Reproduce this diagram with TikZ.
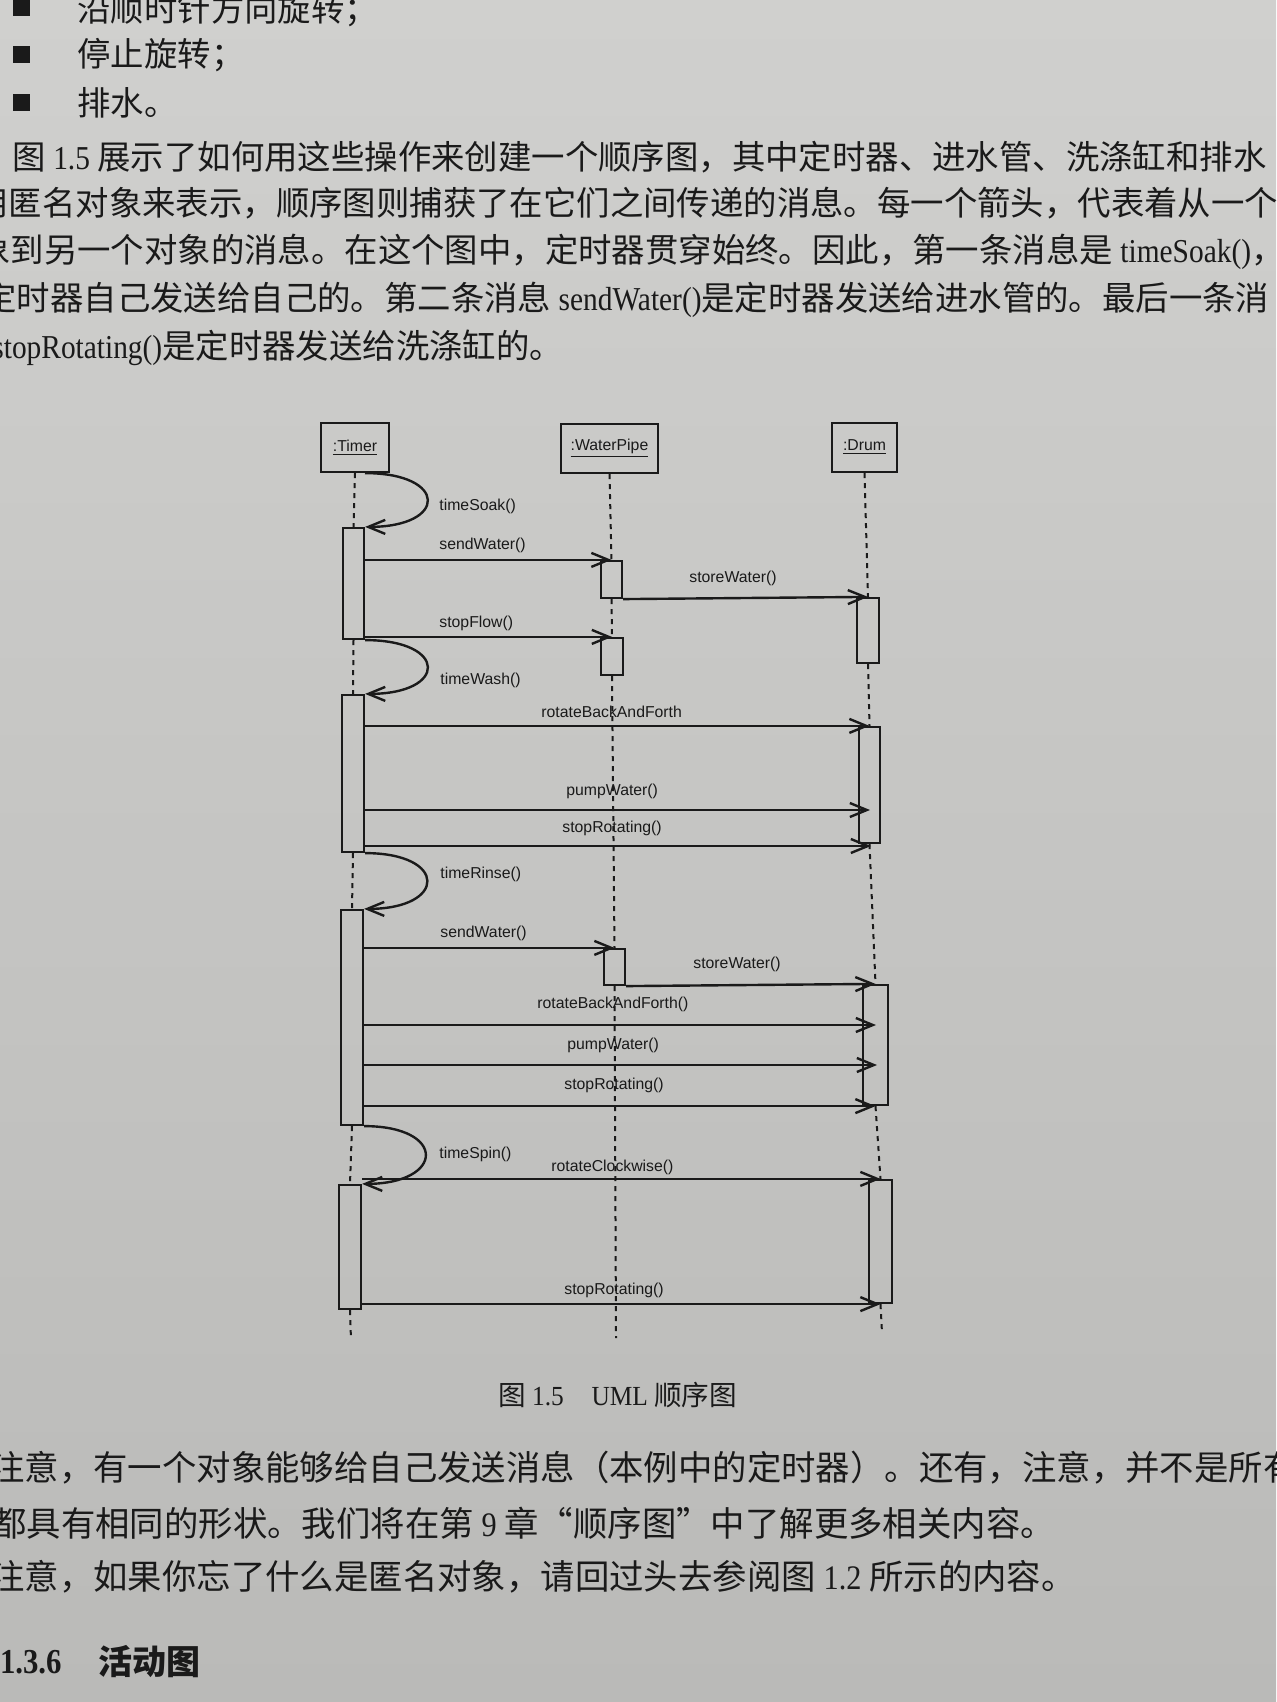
\documentclass[tikz,border=0pt]{standalone}
\usepackage{fontspec}
\setmainfont{Noto Sans CJK SC}
\newfontfamily\tms[FakeStretch=0.88]{Liberation Serif}
\newfontfamily\tmscap[FakeStretch=0.92]{Liberation Serif}
\newfontfamily\hlv{Liberation Sans}
\usetikzlibrary{arrows.meta}
\definecolor{ink}{RGB}{26,26,26}
\definecolor{paperTop}{RGB}{208,208,206}
\definecolor{paperBot}{RGB}{186,186,184}
% activation bar: name, x-left, x-right, y-top, y-bottom (pixel units)
\newcommand\actnode[5]{\node[actbox, minimum width={(#3-#2)*0.5pt}, minimum height={(#5-#4)*0.5pt}] (#1) at ({(#2+#3)/2},{(#4+#5)/2}) {};}
\tikzset{
  body/.style={anchor=west, inner sep=0pt, text=ink, font=\fontsize{16.7}{20}\selectfont},
  bodyb/.style={anchor=west, inner sep=0pt, text=ink, font=\fontsize{17.2}{20}\selectfont},
  bullet/.style={fill=ink, inner sep=0pt, minimum size=8.5pt},
  obj/.style={draw=ink, line width=1.1pt, inner sep=0pt, text=ink, font=\hlv\fontsize{7.9}{9}\selectfont},
  actbox/.style={draw=ink, line width=1.1pt, inner sep=0pt},
  life/.style={draw=ink, line width=1pt, dash pattern=on 2.5pt off 2.5pt},
  msg/.style={draw=ink, line width=1.2pt, -{Straight Barb[length=8.5pt,width=7pt]}},
  lbl/.style={anchor=west, inner sep=0pt, text=ink, font=\hlv\fontsize{7.9}{9}\selectfont},
}
\begin{document}
\begin{tikzpicture}[x=0.5pt,y=-0.5pt]
\useasboundingbox (0,0) rectangle (1276,1702);
\clip (0,0) rectangle (1276,1702);
\shade[top color=paperTop, bottom color=paperBot] (0,0) rectangle (1276,1702);

% ---- text above the figure ----
\node[bullet] (b1) at (21,8) {};
\node[body] (t1) at (77,10) {沿顺时针方向旋转；};
\node[bullet] (b2) at (21,55) {};
\node[body] (t2) at (77,55) {停止旋转；};
\node[bullet] (b3) at (21,103) {};
\node[body] (t3) at (77,103) {排水。};
\node[body] (p1) at (12,157) {图 {\tms 1.5} 展示了如何用这些操作来创建一个顺序图，其中定时器、进水管、洗涤缸和排水};
\node[body] (p2) at (-25,203) {用匿名对象来表示，顺序图则捕获了在它们之间传递的消息。每一个箭头，代表着从一个};
\node[body] (p3) at (-23,252) {象到另一个对象的消息。在这个图中，定时器贯穿始终。因此，第一条消息是 {\tms timeSoak()}，};
\node[body] (p4) at (-17,300) {定时器自己发送给自己的。第二条消息 {\tms sendWater()}是定时器发送给进水管的。最后一条消};
\node[body] (p5) at (-8,348) {{\tms stopRotating()}是定时器发送给洗涤缸的。};

% ---- objects ----
\node[obj, minimum width=34pt, minimum height=24.5pt] (tbox) at (355,447.5) {\underline{:Timer}};
\node[obj, minimum width=48.5pt, minimum height=24.5pt] (wbox) at (609.5,448.5) {\underline{:WaterPipe}};
\node[obj, minimum width=32.5pt, minimum height=24.5pt] (dbox) at (864.5,447.5) {\underline{:Drum}};

% ---- activation bars ----
\actnode{ta1}{343}{364}{528}{639}
\actnode{ta2}{342}{364}{695}{852}
\actnode{ta3}{341}{363}{910}{1125}
\actnode{ta4}{339}{361}{1185}{1309}
\actnode{wa1}{601}{622}{561}{598}
\actnode{wa2}{601}{623}{638}{675}
\actnode{wa3}{604}{625}{949}{985}
\actnode{da1}{857}{879}{598}{663}
\actnode{da2}{859}{880}{727}{843}
\actnode{da3}{863}{888}{985}{1105}
\actnode{da4}{869}{892}{1180}{1303}

% ---- lifelines ----
\coordinate (tend) at (351,1340);
\coordinate (wend) at (616,1338);
\coordinate (dend) at (882,1333);
\draw[life] (tbox.south) -- (ta1.north);
\draw[life] (ta1.south) -- (ta2.north);
\draw[life] (ta2.south) -- (ta3.north);
\draw[life] (ta3.south) -- (ta4.north);
\draw[life] (ta4.south) -- (tend);
\draw[life] (wbox.south) -- (wa1.north);
\draw[life] (wa1.south) -- (wa2.north);
\draw[life] (wa2.south) -- (wa3.north);
\draw[life] (wa3.south) -- (wend);
\draw[life] (dbox.south) -- (da1.north);
\draw[life] (da1.south) -- (da2.north);
\draw[life] (da2.south) -- (da3.north);
\draw[life] (da3.south) -- (da4.north);
\draw[life] (da4.south) -- (dend);

% ---- self messages on the timer ----
\draw[msg] ([xshift=5pt]tbox.south) .. controls +(83,0) and +(83,0) .. (ta1.north east);
\draw[msg] (ta1.south east) .. controls +(83,0) and +(83,0) .. (ta2.north east);
\draw[msg] (ta2.south east) .. controls +(83,0) and +(83,0) .. (ta3.north east);
\draw[msg] (ta3.south east) .. controls +(83,0) and +(83,0) .. (ta4.north east);

% ---- message tips ----
\coordinate (k5) at (870,810);
\coordinate (k6) at (871,846);
\coordinate (k9) at (876,1025);
\coordinate (k10) at (877,1065);

% ---- messages ----
\draw[msg] (ta1.east |- wa1.north) -- (wa1.north);
\draw[msg] (wa1.south east) -- (da1.north);
\draw[msg] (ta1.east |- wa2.north) -- (wa2.north);
\draw[msg] (ta2.east |- da2.north) -- (da2.north);
\draw[msg] (ta2.east |- k5) -- (k5);
\draw[msg] (ta2.east |- k6) -- (k6);
\draw[msg] (ta3.east |- wa3.north) -- (wa3.north);
\draw[msg] (wa3.south east) -- (da3.north);
\draw[msg] (ta3.east |- k9) -- (k9);
\draw[msg] (ta3.east |- k10) -- (k10);
\draw[msg] (ta3.east |- da3.south) -- (da3.south);
\draw[msg] (ta4.east |- da4.north) -- (da4.north);
\draw[msg] (ta4.east |- da4.south) -- (da4.south);

% ---- message labels ----
\node[lbl] (l1) at (439,506) {timeSoak()};
\node[lbl] (l2) at (439,545) {sendWater()};
\node[lbl] (l3) at (689,578) {storeWater()};
\node[lbl] (l4) at (439,623) {stopFlow()};
\node[lbl] (l5) at (440,680) {timeWash()};
\node[lbl] (l6) at (541,712) {rotateBackAndForth};
\node[lbl] (l7) at (566,791) {pumpWater()};
\node[lbl] (l8) at (562,828) {stopRotating()};
\node[lbl] (l9) at (440,874) {timeRinse()};
\node[lbl] (l10) at (440,933) {sendWater()};
\node[lbl] (l11) at (693,964) {storeWater()};
\node[lbl] (l12) at (537,1004) {rotateBackAndForth()};
\node[lbl] (l13) at (567,1045) {pumpWater()};
\node[lbl] (l14) at (564,1085) {stopRotating()};
\node[lbl] (l15) at (439,1154) {timeSpin()};
\node[lbl] (l16) at (551,1167) {rotateClockwise()};
\node[lbl] (l17) at (564,1290) {stopRotating()};

% ---- caption ----
\node[anchor=west, inner sep=0pt, text=ink, font=\fontsize{13.8}{16}\selectfont] (cap) at (498,1395) {图 {\tmscap 1.5}\quad {\tmscap UML} 顺序图};

% ---- text below the figure ----
\node[bodyb] (q1) at (-10,1468) {注意，有一个对象能够给自己发送消息（本例中的定时器）。还有，注意，并不是所有};
\node[bodyb] (q2) at (-8,1523) {都具有相同的形状。我们将在第 {\tms 9} 章“顺序图”中了解更多相关内容。};
\node[bodyb] (q3) at (-10,1577) {注意，如果你忘了什么是匿名对象，请回过头去参阅图 {\tms 1.2} 所示的内容。};
\node[anchor=east, inner sep=0pt, text=ink, font=\tms\bfseries\fontsize{17.5}{20}\selectfont] (h1) at (62,1662) {1.3.6};
\node[anchor=west, inner sep=0pt, text=ink, font=\bfseries\fontsize{17}{20}\selectfont] (h2) at (98,1662) {活动图};
\end{tikzpicture}
\end{document}
